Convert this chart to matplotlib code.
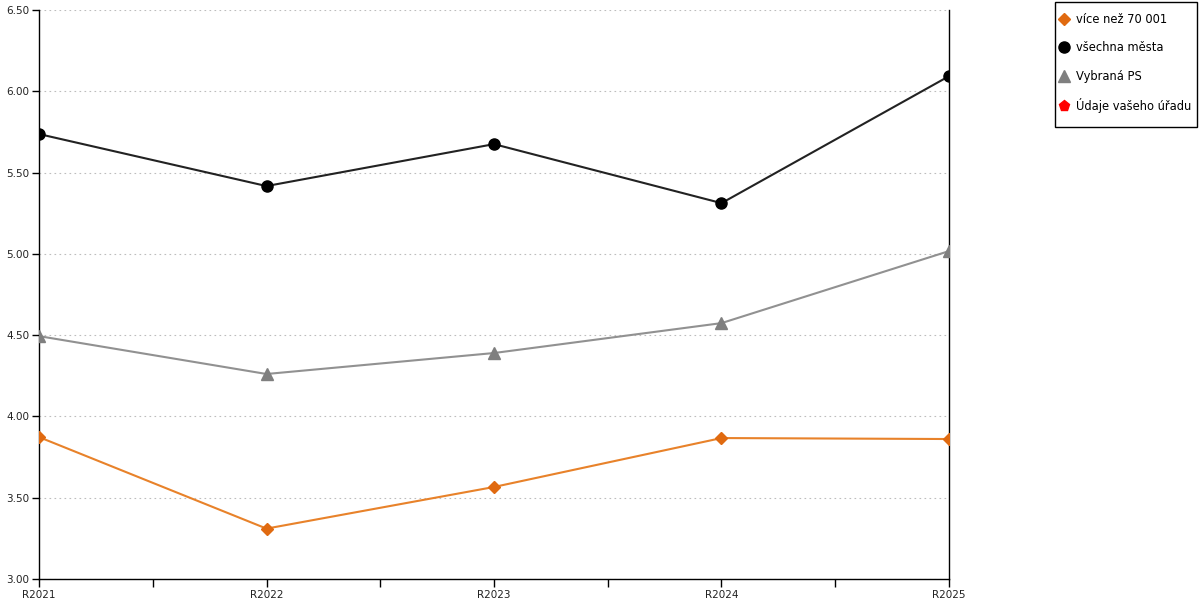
import matplotlib
matplotlib.use("Agg")
import matplotlib.pyplot as plt
from matplotlib.lines import Line2D
from matplotlib.patches import Rectangle

categories = ["R2021", "R2022", "R2023", "R2024", "R2025"]
vice_nez = [3.873, 3.310, 3.566, 3.867, 3.861]
vsechna_mesta = [5.737, 5.417, 5.675, 5.312, 6.093]
vybrana_ps = [4.494, 4.261, 4.390, 4.574, 5.017]
yticks = [3.00, 3.50, 4.00, 4.50, 5.00, 5.50, 6.00, 6.50]

plt.rcParams['font.family'] = ['DejaVu Sans']

fig = plt.figure(figsize=(12, 6), dpi=100)
ax = fig.add_axes([39/1200, 1 - 579/600, (949 - 39)/1200, (579 - 10)/600])

x = list(range(len(categories)))
ax.plot(x, vice_nez, color="#E8822A", lw=1.5, marker="D", markersize=6,
        markerfacecolor="#E06A10", markeredgecolor="#E06A10", zorder=3)
ax.plot(x, vsechna_mesta, color="#222222", lw=1.5, marker="o", markersize=8,
        markerfacecolor="#000000", markeredgecolor="#000000", zorder=3)
ax.plot(x, vybrana_ps, color="#919191", lw=1.5, marker="^", markersize=8,
        markerfacecolor="#7F7F7F", markeredgecolor="#7F7F7F", zorder=3)

ax.set_xlim(0, len(categories) - 1)
ax.set_ylim(3.0, 6.5)
ax.set_yticks(yticks)
ax.set_yticklabels([f"{v:.2f}" for v in yticks], fontsize=7.5, color="#222222")
ax.set_xticks(x)
ax.set_xticklabels(categories, fontsize=7.5, color="#222222")
ax.set_xticks([i + 0.5 for i in range(len(categories) - 1)], minor=True)
ax.tick_params(axis='x', which='both', direction='out', length=6, width=1, pad=2)
ax.tick_params(axis='y', direction='out', length=5, width=1, pad=2)

ax.grid(axis='y', color="#BDBDBD", linestyle=(0, (1.5, 3)), linewidth=0.8)
ax.set_axisbelow(True)
ax.spines['top'].set_visible(False)
for s in ['left', 'bottom', 'right']:
    ax.spines[s].set_color("black")
    ax.spines[s].set_linewidth(1)

handles = [
    Line2D([], [], ls='none', marker='D', markersize=6, color="#E06A10"),
    Line2D([], [], ls='none', marker='o', markersize=8, color="#000000"),
    Line2D([], [], ls='none', marker='^', markersize=8, color="#7F7F7F"),
    Line2D([], [], ls='none', marker='p', markersize=8, color="#FF0000"),
]
labels = ["více než 70 001", "všechna města", "Vybraná PS", "Údaje vašeho úřadu"]
leg = fig.legend(handles, labels, loc='upper left',
                 bbox_to_anchor=(1059/1200, 1 - 13/600), fontsize=8.3,
                 frameon=False, labelspacing=1.33, handlelength=0.8,
                 handletextpad=0.7, borderpad=0, borderaxespad=0)
fig.add_artist(Rectangle((1055/1200, 1 - 127/600), 142/1200, 125/600,
                         transform=fig.transFigure, fill=False,
                         edgecolor="black", linewidth=1))

fig.savefig("out.png", dpi=100)
